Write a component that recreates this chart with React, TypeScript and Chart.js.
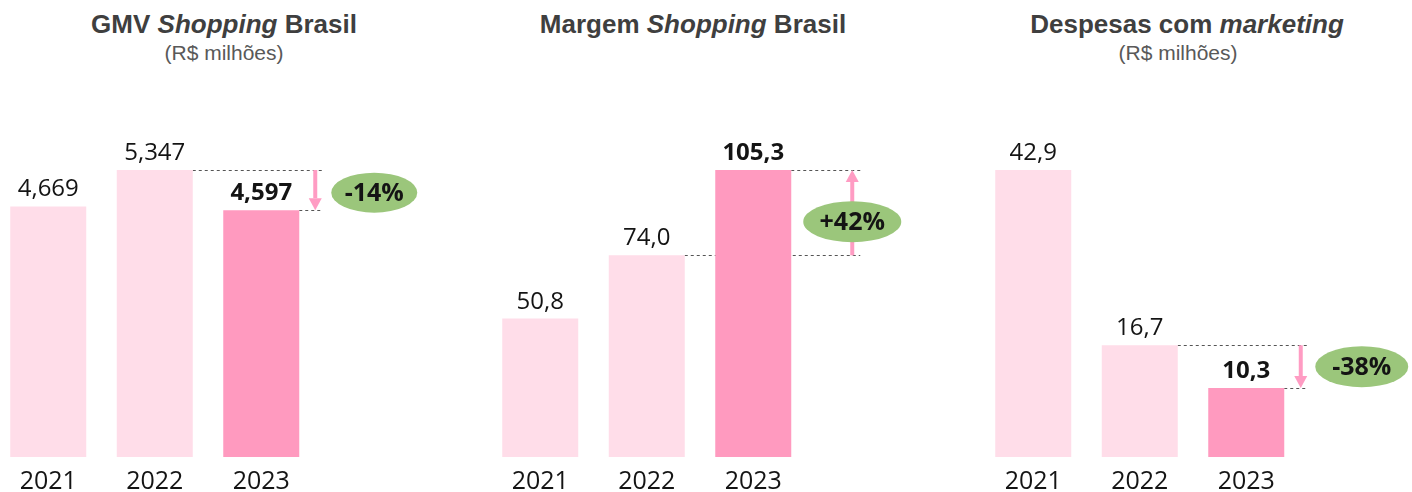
import React, { useEffect, useRef } from "react";
import { Chart, registerables } from "chart.js";

Chart.register(...registerables);

const years = ["2021", "2022", "2023"];

const gmvValues = [4669, 5347, 4597];
const gmvLabels = ["4,669", "5,347", "4,597"];
const gmvChange = "-14%";

const margemValues = [50.8, 74.0, 105.3];
const margemLabels = ["50,8", "74,0", "105,3"];
const margemChange = "+42%";

const marketingValues = [42.9, 16.7, 10.3];
const marketingLabels = ["42,9", "16,7", "10,3"];
const marketingChange = "-38%";

const LIGHT = "#FFDDE9";
const DARK = "#FF9ABF";
const ARROW = "#FF9CC3";
const GREEN = "#9BC67B";
const TEXT = "#141414";
const FONT = "'Open Sans', 'Noto Sans', sans-serif";
const CANVAS_H = 507;

type Deco = {
  lineEnd: number;
  arrowX: number;
  ellX: number;
  ellDy: number;
  rx: number;
  ry: number;
};

type PanelProps = {
  left: number;
  width: number;
  values: number[];
  labels: string[];
  change: string;
  deco: Deco;
};

const AREA_W = 319.5;

function Panel({ left, width, values, labels, change, deco }: PanelProps) {
  const ref = useRef<HTMLCanvasElement | null>(null);

  useEffect(() => {
    if (!ref.current) return;
    const plugin = {
      id: "deco",
      beforeDatasetsDraw(chart: any) {
        const ctx = chart.ctx;
        const meta = chart.getDatasetMeta(0);
        const b1 = meta.data[1] as any;
        const b2 = meta.data[2] as any;
        const r1 = b1.x + b1.width / 2;
        const r2 = b2.x + b2.width / 2;
        const endX = r2 + deco.lineEnd;
        ctx.save();
        ctx.strokeStyle = "#555555";
        ctx.lineWidth = 1;
        ctx.setLineDash([3, 3]);
        ctx.beginPath();
        ctx.moveTo(r1, Math.round(b1.y) + 0.5);
        ctx.lineTo(endX, Math.round(b1.y) + 0.5);
        ctx.moveTo(r2, Math.round(b2.y) + 0.5);
        ctx.lineTo(endX, Math.round(b2.y) + 0.5);
        ctx.stroke();
        ctx.restore();
      },
      afterDatasetsDraw(chart: any) {
        const ctx = chart.ctx;
        const meta = chart.getDatasetMeta(0);
        ctx.save();
        ctx.fillStyle = TEXT;
        ctx.textAlign = "center";
        ctx.textBaseline = "alphabetic";
        meta.data.forEach((bar: any, i: number) => {
          ctx.font = (i === 2 ? "bold " : "") + "24px " + FONT;
          ctx.fillText(labels[i], bar.x, bar.y - 10);
        });
        ctx.restore();

        const b1 = meta.data[1] as any;
        const b2 = meta.data[2] as any;
        const r2 = b2.x + b2.width / 2;
        const ax = r2 + deco.arrowX;
        const y1 = b1.y;
        const y2 = b2.y;
        const dir = y2 > y1 ? 1 : -1;
        const head = 12;
        ctx.save();
        ctx.strokeStyle = ARROW;
        ctx.fillStyle = ARROW;
        ctx.lineWidth = 4;
        ctx.beginPath();
        ctx.moveTo(ax, y1);
        ctx.lineTo(ax, y2 - dir * head);
        ctx.stroke();
        ctx.beginPath();
        ctx.moveTo(ax, y2);
        ctx.lineTo(ax - 6.5, y2 - dir * head);
        ctx.lineTo(ax + 6.5, y2 - dir * head);
        ctx.closePath();
        ctx.fill();
        ctx.restore();

        const ex = r2 + deco.ellX;
        const ey = (y1 + y2) / 2 + deco.ellDy;
        ctx.save();
        ctx.fillStyle = GREEN;
        ctx.beginPath();
        ctx.ellipse(ex, ey, deco.rx, deco.ry, 0, 0, Math.PI * 2);
        ctx.fill();
        ctx.fillStyle = TEXT;
        ctx.font = "bold 25px " + FONT;
        ctx.textAlign = "center";
        ctx.textBaseline = "middle";
        ctx.fillText(change, ex, ey + 1);
        ctx.restore();
      },
    };

    const chart = new Chart(ref.current, {
      type: "bar",
      data: {
        labels: years,
        datasets: [
          {
            data: values,
            backgroundColor: [LIGHT, LIGHT, DARK],
            borderWidth: 0,
            barPercentage: 76 / 106.5,
            categoryPercentage: 1,
          },
        ],
      },
      options: {
        responsive: false,
        animation: false,
        layout: { padding: { top: 170, right: width - AREA_W, left: 0, bottom: 0 } },
        plugins: { legend: { display: false }, tooltip: { enabled: false }, title: { display: false } },
        scales: {
          x: {
            grid: { display: false, drawTicks: false },
            border: { display: false },
            ticks: { color: TEXT, font: { family: FONT, size: 25 }, padding: 10 },
          },
          y: { display: false, min: 0, max: Math.max(...values) },
        },
      },
      plugins: [plugin],
    });
    return () => chart.destroy();
  }, []);

  return (
    <canvas
      ref={ref}
      width={width}
      height={CANVAS_H}
      style={{ position: "absolute", left, top: 0, width, height: CANVAS_H }}
    />
  );
}

function Title({ cx, top, size, bold, color, children }: any) {
  return (
    <div
      style={{
        position: "absolute",
        left: cx,
        top,
        transform: "translateX(-50%)",
        whiteSpace: "nowrap",
        fontFamily: "'Liberation Sans', Arial, sans-serif",
        fontSize: size,
        lineHeight: size + 4 + "px",
        fontWeight: bold ? 700 : 400,
        color,
      }}
    >
      {children}
    </div>
  );
}

export default function App() {
  return (
    <div
      style={{
        position: "fixed",
        left: 0,
        top: 0,
        width: 1412,
        height: 492,
        overflow: "hidden",
        background: "#ffffff",
      }}
    >
      <Title cx={224} top={9} size={26} bold color="#3f3f3f">
        GMV <i>Shopping</i> Brasil
      </Title>
      <Title cx={224} top={40} size={21} color="#595959">
        (R$ milhões)
      </Title>
      <Title cx={693} top={9} size={26} bold color="#3f3f3f">
        Margem <i>Shopping</i> Brasil
      </Title>
      <Title cx={1187} top={9} size={26} bold color="#3f3f3f">
        Despesas com <i>marketing</i>
      </Title>
      <Title cx={1178} top={40} size={21} color="#595959">
        (R$ milhões)
      </Title>

      <Panel
        left={-5}
        width={460}
        values={gmvValues}
        labels={gmvLabels}
        change={gmvChange}
        deco={{ lineEnd: 24, arrowX: 16, ellX: 75, ellDy: 2.5, rx: 43, ry: 20 }}
      />
      <Panel
        left={487}
        width={460}
        values={margemValues}
        labels={margemLabels}
        change={margemChange}
        deco={{ lineEnd: 69, arrowX: 61, ellX: 61, ellDy: 9, rx: 49, ry: 20.5 }}
      />
      <Panel
        left={980}
        width={432}
        values={marketingValues}
        labels={marketingLabels}
        change={marketingChange}
        deco={{ lineEnd: 24, arrowX: 16.5, ellX: 77.5, ellDy: 0, rx: 46.5, ry: 20.5 }}
      />
    </div>
  );
}
